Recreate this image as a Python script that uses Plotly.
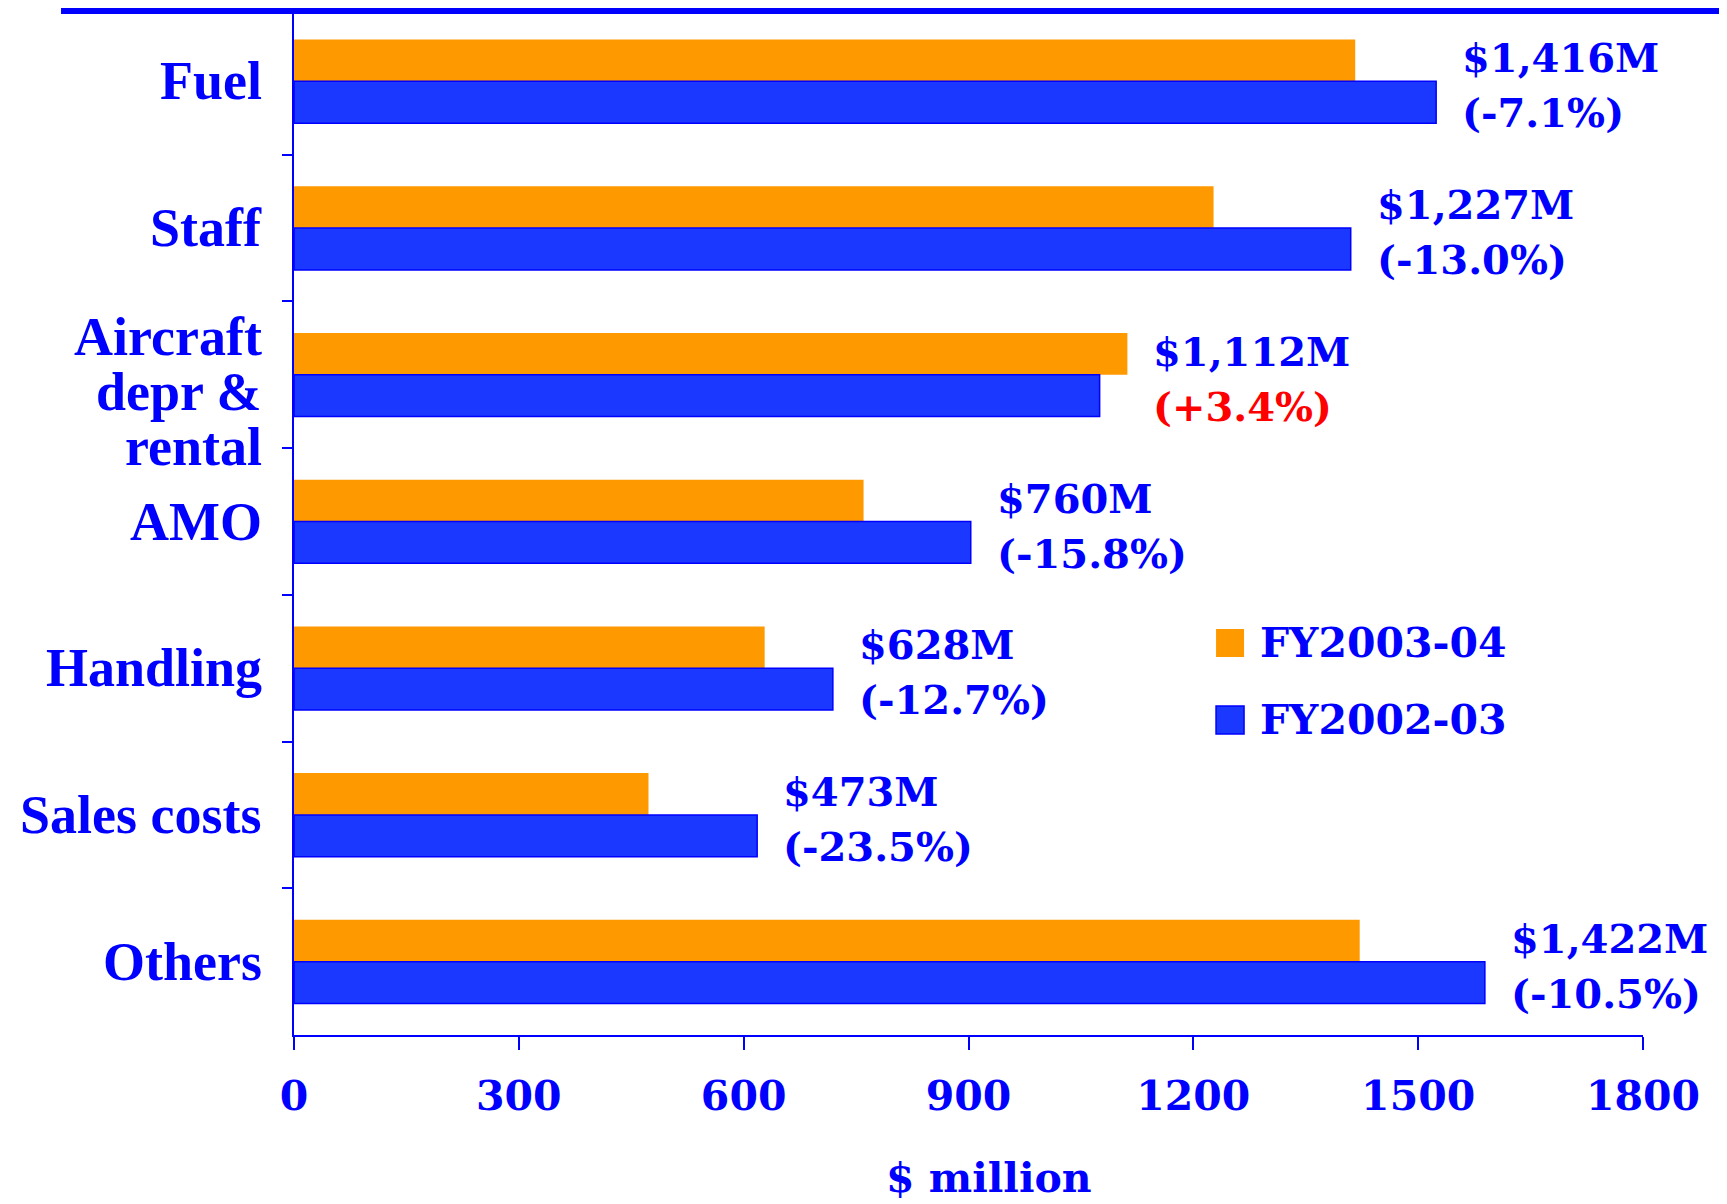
import plotly.graph_objects as go

# ---- data ----
categories = ["Fuel", "Staff", "Aircraft depr & rental", "AMO", "Handling", "Sales costs", "Others"]
category_lines = [["Fuel"], ["Staff"], ["Aircraft", "depr &", "rental"], ["AMO"],
                  ["Handling"], ["Sales costs"], ["Others"]]
fy2003_04 = [1416, 1227, 1112, 760, 628, 473, 1422]
fy2002_03 = [1524, 1410, 1075, 903, 719, 618, 1589]
value_labels = ["$1,416M", "$1,227M", "$1,112M", "$760M", "$628M", "$473M", "$1,422M"]
change_labels = ["(-7.1%)", "(-13.0%)", "(+3.4%)", "(-15.8%)", "(-12.7%)", "(-23.5%)", "(-10.5%)"]
series_names = ["FY2003-04", "FY2002-03"]
x_ticks = [0, 300, 600, 900, 1200, 1500, 1800]

BLUE = "#0000FF"
ORANGE = "#FF9900"
BAR_BLUE = "#1A38FF"
RED = "#FF0000"

# page has an 8px body margin; size the figure to fill the window exactly
W, H = 1719, 1196
ML, MR, MT, MB = 286, 84, 0, 169
PW = W - ML - MR
PH = H - MT - MB

fig = go.Figure()
fig.add_trace(go.Bar(
    y=categories, x=fy2003_04, orientation="h", name=series_names[0],
    marker=dict(color=ORANGE, line=dict(width=0)), showlegend=False,
))
fig.add_trace(go.Bar(
    y=categories, x=fy2002_03, orientation="h", name=series_names[1],
    marker=dict(color=BAR_BLUE, line=dict(color=BLUE, width=1.5)), showlegend=False,
))

annotations = []
LABEL_FONT = dict(family="DejaVu Serif", size=40, weight="bold")
# value + change labels (two lines, 55px apart)
for cat, a, b, v, c in zip(categories, fy2003_04, fy2002_03, value_labels, change_labels):
    ccol = RED if c.startswith("(+") else BLUE
    for txt, col, dy in ((v, BLUE, 27.5), (c, ccol, -27.5)):
        annotations.append(dict(
            x=max(a, b), y=cat, xref="x", yref="y", xanchor="left", yanchor="middle",
            xshift=24, yshift=dy - 4, showarrow=False, text=txt,
            font=dict(LABEL_FONT, color=col),
        ))

# category labels (left of axis)
LINE_STEP = 55
for cat, lines in zip(categories, category_lines):
    n = len(lines)
    group_off = -17 if n > 1 else 0
    for i, ln in enumerate(lines):
        annotations.append(dict(
            x=0, y=cat, xref="x", yref="y", xanchor="right", yanchor="middle",
            xshift=-30, yshift=(n - 1) / 2 * LINE_STEP - i * LINE_STEP + group_off,
            showarrow=False, text=ln,
            font=dict(family="Liberation Serif", size=54, color=BLUE, weight="bold"),
        ))

# x-axis title
annotations.append(dict(
    x=0.515, y=-(1170 - (H - MB)) / PH, xref="paper", yref="paper",
    xanchor="center", yanchor="middle",
    showarrow=False, text="$ million",
    font=dict(family="DejaVu Serif", size=41, color=BLUE, weight="bold"),
))

# manual legend
legend_items = [(series_names[0], ORANGE, None, 0.3817), (series_names[1], BAR_BLUE, BLUE, 0.3067)]
shapes = []
sq_w = 28 / PW
sq_h = 28 / PH
for name, col, lcol, yc in legend_items:
    shapes.append(dict(
        type="rect", xref="paper", yref="paper",
        x0=0.6835, x1=0.6835 + sq_w, y0=yc - sq_h / 2, y1=yc + sq_h / 2,
        fillcolor=col, line=dict(color=lcol or col, width=1.5 if lcol else 0),
    ))
    annotations.append(dict(
        x=0.7146, y=yc, xref="paper", yref="paper", xanchor="left", yanchor="middle",
        showarrow=False, text=name,
        font=dict(family="DejaVu Serif", size=41, color=BLUE, weight="bold"),
    ))

# thick top rule
shapes.append(dict(
    type="line", xref="paper", yref="paper", x0=-0.1727, x1=1.07,
    y0=1 - 3 / PH, y1=1 - 3 / PH,
    line=dict(color=BLUE, width=6),
))

fig.update_layout(
    width=W, height=H,
    margin=dict(l=ML, r=MR, t=MT, b=MB, autoexpand=False),
    paper_bgcolor="white", plot_bgcolor="white",
    barmode="group", bargap=0.43, bargroupgap=0,
    showlegend=False,
    annotations=annotations, shapes=shapes,
    xaxis=dict(
        range=[0, 1800], tickvals=x_ticks, ticktext=[str(t) for t in x_ticks],
        showgrid=False, zeroline=False, showline=True, linecolor=BLUE, linewidth=2,
        ticks="outside", ticklen=13, tickwidth=1.5, tickcolor=BLUE,
        ticklabelstandoff=11,
        tickfont=dict(family="DejaVu Serif", size=41, color=BLUE, weight="bold"),
    ),
    yaxis=dict(
        type="category", categoryorder="array", categoryarray=categories,
        range=[6.5, -0.5], showticklabels=False,
        showgrid=False, zeroline=False, showline=True, linecolor=BLUE, linewidth=2,
        ticks="outside", ticklen=10, tickwidth=1.5, tickcolor=BLUE, tickson="boundaries",
    ),
)

fig.write_html("out.html")
